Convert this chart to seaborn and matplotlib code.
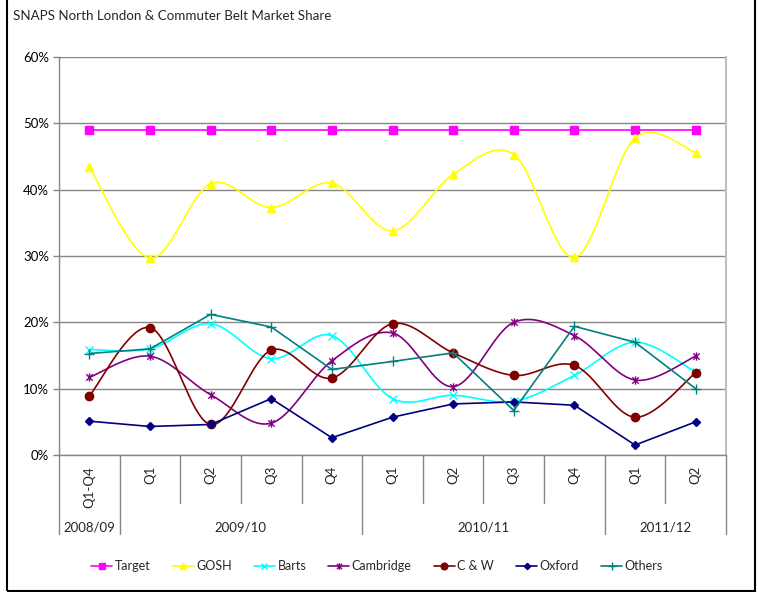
import numpy as np
import pandas as pd
import matplotlib
matplotlib.use("Agg")
import matplotlib.pyplot as plt
from matplotlib.lines import Line2D
from matplotlib.path import Path
from matplotlib.patches import Rectangle
import seaborn as sns

# ---- data (market share, %) ----
periods = ["Q1-Q4", "Q1", "Q2", "Q3", "Q4", "Q1", "Q2", "Q3", "Q4", "Q1", "Q2"]
years = ["2008/09", "2009/10", "2010/11", "2011/12"]
year_spans = [1, 4, 4, 2]

target = [49, 49, 49, 49, 49, 49, 49, 49, 49, 49, 49]
gosh = [43.4, 29.7, 40.9, 37.3, 41.0, 33.8, 42.3, 45.3, 29.8, 47.8, 45.6]
barts = [15.9, 16.0, 19.8, 14.5, 18.0, 8.5, 9.0, 8.1, 12.0, 17.0, 12.5]
cambridge = [11.7, 14.9, 9.1, 4.8, 14.2, 18.4, 10.3, 20.0, 18.0, 11.3, 14.9]
cw = [8.9, 19.2, 4.6, 15.8, 11.6, 19.8, 15.4, 12.0, 13.5, 5.7, 12.4]
oxford = [5.1, 4.3, 4.6, 8.5, 2.6, 5.7, 7.7, 8.0, 7.5, 1.5, 5.0]
others = [15.3, 16.0, 21.2, 19.3, 12.9, 14.1, 15.4, 6.7, 19.4, 17.0, 10.0]

sns.set_theme(style="white")
plt.rcParams["font.family"] = ["Lato", "DejaVu Sans"]

FS = 9.5
LEG_FS = 9.0
GRID = "#868686"

# asterisk marker: an X with a vertical bar
star = Path([(-1, -1), (1, 1), (-1, 1), (1, -1), (0, -1.3), (0, 1.3)],
            [Path.MOVETO, Path.LINETO, Path.MOVETO, Path.LINETO, Path.MOVETO, Path.LINETO])

# name, values, colour, marker, marker size, smoothed?
series = [
    ("Target", target, "#FF00FF", "s", 5.5, False),
    ("GOSH", gosh, "#FFFF00", "^", 6, True),
    ("Barts", barts, "#00FFFF", "x", 5.5, True),
    ("Cambridge", cambridge, "#800080", star, 6, True),
    ("C & W", cw, "#800000", "o", 6, True),
    ("Oxford", oxford, "#000080", "D", 4, False),
    ("Others", others, "#008080", "+", 7, False),
]


def bezier_smooth(vals, n=40):
    """Piecewise cubic Bezier through the points (Catmull-Rom style tangents)."""
    p = np.column_stack([np.arange(len(vals), dtype=float), np.asarray(vals, float)])
    out = []
    t = np.linspace(0, 1, n)[:, None]
    for i in range(len(p) - 1):
        p0 = p[max(i - 1, 0)]
        p1, p2 = p[i], p[i + 1]
        p3 = p[min(i + 2, len(p) - 1)]
        c1 = p1 + (p2 - p0) / 6
        c2 = p2 - (p3 - p1) / 6
        seg = (1 - t) ** 3 * p1 + 3 * (1 - t) ** 2 * t * c1 + 3 * (1 - t) * t ** 2 * c2 + t ** 3 * p2
        out.append(seg if i == 0 else seg[1:])
    return np.vstack(out)


W, H = 758, 592
fig = plt.figure(figsize=(W / 100, H / 100), dpi=100)
L, R, T, B = 59, 726, 57, 455
ax = fig.add_axes([L / W, 1 - B / H, (R - L) / W, (B - T) / H])

xs = np.arange(len(periods))
for name, vals, col, mk, ms, smooth in series:
    if smooth:
        curve = bezier_smooth(vals)
        sns.lineplot(x=curve[:, 0], y=curve[:, 1], ax=ax, color=col, lw=1.2,
                     estimator=None, sort=False, legend=False)
        sns.lineplot(x=xs, y=vals, ax=ax, color=col, lw=0, marker=mk, markersize=ms,
                     markeredgecolor=col, markeredgewidth=1.0, linestyle="",
                     estimator=None, sort=False, legend=False)
    else:
        sns.lineplot(x=xs, y=vals, ax=ax, color=col, lw=1.2, marker=mk, markersize=ms,
                     markeredgecolor=col, markeredgewidth=1.0,
                     estimator=None, sort=False, legend=False)

ax.set_xlim(-0.5, len(periods) - 0.5)
ax.set_ylim(0, 60)
ax.set_yticks(np.arange(0, 61, 10))
ax.set_yticklabels([f"{v}%" for v in range(0, 61, 10)], fontsize=FS, color="black")
ax.set_xticks([])
ax.set_xlabel("")
ax.set_ylabel("")
ax.yaxis.grid(True, color=GRID, lw=1)
ax.set_axisbelow(True)
ax.tick_params(axis="y", which="both", left=True, length=4, width=1, color=GRID, pad=3)
for side in ["left", "bottom"]:
    ax.spines[side].set_color(GRID)
    ax.spines[side].set_linewidth(1)
ax.spines["top"].set_visible(False)
ax.spines["right"].set_color("#BFBFBF")
ax.spines["right"].set_linewidth(1.5)

# two-level category axis below the plot
trans = ax.get_xaxis_transform()
q_bottom = -(503 - B) / (B - T)
y_bottom = -(534 - B) / (B - T)
edges = np.cumsum([0] + year_spans) - 0.5
for i in range(len(periods) + 1):
    xb = i - 0.5
    low = y_bottom if np.any(np.isclose(edges, xb)) else q_bottom
    ax.plot([xb, xb], [0, low], transform=trans, color=GRID, lw=1, clip_on=False)
for i, lab in enumerate(periods):
    ax.text(i, -(466 - B) / (B - T), lab, transform=trans, rotation=90,
            ha="center", va="top", fontsize=FS)
ymid = -(527 - B) / (B - T)
for j, lab in enumerate(years):
    cx = (edges[j] + edges[j + 1]) / 2
    ax.text(cx, ymid, lab, transform=trans, ha="center", va="center", fontsize=FS)

fig.text(13 / W, 1 - 16 / H, "SNAPS North London & Commuter Belt Market Share",
         ha="left", va="center", fontsize=9.6)

handles = [Line2D([], [], color=col, lw=1.2, marker=mk, markersize=ms * 0.8,
                  markeredgecolor=col, markeredgewidth=1.0)
           for _, _, col, mk, ms, _ in series]
fig.legend(handles, [s[0] for s in series], loc="center", ncol=7,
           bbox_to_anchor=(377 / W, 1 - 566 / H), frameon=False, fontsize=LEG_FS,
           handlelength=1.7, handletextpad=0.2, columnspacing=1.75)

# chart frame
fig.patches.append(Rectangle((6.5 / W, 1 - 590.5 / H), (755 - 6.5) / W, 2,
                             transform=fig.transFigure, fill=False,
                             edgecolor="black", lw=1.5))

fig.savefig("out.png", dpi=100)
